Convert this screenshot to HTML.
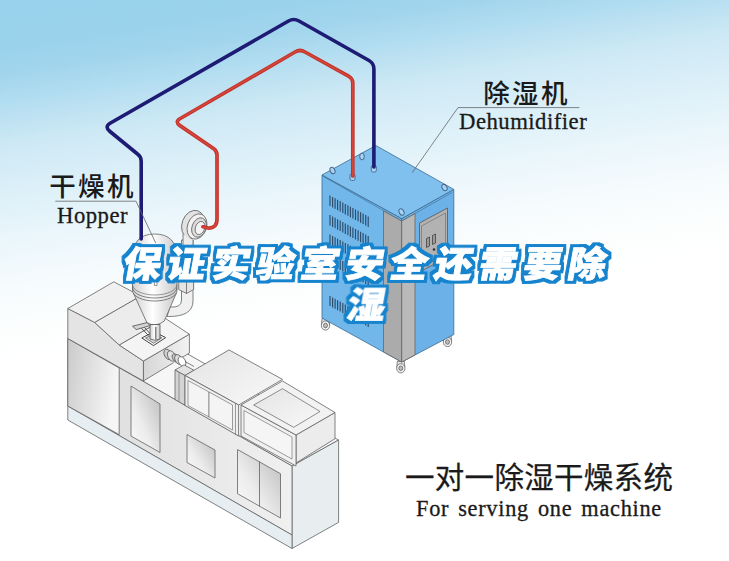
<!DOCTYPE html>
<html lang="zh-CN">
<head>
<meta charset="utf-8">
<title>保证实验室安全还需要除湿</title>
<style>
html,body{margin:0;padding:0;background:#fff;}
#stage{position:relative;width:729px;height:561px;overflow:hidden;background:#fff;}
#stage svg{position:absolute;left:0;top:0;display:block;}
.lab{position:absolute;white-space:nowrap;color:#1a1a1a;line-height:1;}
.cn{font-family:"Liberation Sans","Noto Sans CJK SC",sans-serif;font-weight:500;}
.en{font-family:"Liberation Serif","Noto Serif CJK SC",serif;-webkit-text-stroke:0.3px #1a1a1a;}
</style>
</head>
<body>
<div id="stage">
<svg width="729" height="561" viewBox="0 0 729 561">

<defs>
<linearGradient id="bg" gradientUnits="userSpaceOnUse" x1="0" y1="0" x2="55.5" y2="360.7">
<stop offset="0" stop-color="#98d1eb"/><stop offset="0.12" stop-color="#9ad2eb"/><stop offset="0.2" stop-color="#a1d5ed"/><stop offset="0.27" stop-color="#b0dcf0"/><stop offset="0.33" stop-color="#bee2f2"/><stop offset="0.4" stop-color="#cee9f5"/><stop offset="0.55" stop-color="#dff1f9"/><stop offset="0.65" stop-color="#eaf6fb"/><stop offset="0.78" stop-color="#f6fbfd"/><stop offset="0.9" stop-color="#fcfefe"/><stop offset="1" stop-color="#ffffff"/>
</linearGradient>
<linearGradient id="gFront" x1="0" y1="0" x2="1" y2="0"><stop offset="0" stop-color="#dcdcdc"/><stop offset="1" stop-color="#f0f0f0"/></linearGradient>
<linearGradient id="gPanelL" x1="0" y1="0" x2="1" y2="0.3"><stop offset="0" stop-color="#cacaca"/><stop offset="1" stop-color="#f6f6f6"/></linearGradient>
<linearGradient id="gPan" x1="1" y1="0" x2="0" y2="1"><stop offset="0" stop-color="#b9b9b9"/><stop offset="0.6" stop-color="#ececec"/><stop offset="1" stop-color="#fcfcfc"/></linearGradient>
<linearGradient id="gTop" x1="0" y1="0" x2="1" y2="1"><stop offset="0" stop-color="#e4e4e4"/><stop offset="1" stop-color="#f8f8f8"/></linearGradient>
<linearGradient id="gSide" x1="0" y1="0" x2="1" y2="0"><stop offset="0" stop-color="#d6d6d6"/><stop offset="1" stop-color="#f2f2f2"/></linearGradient>
<linearGradient id="gCyl" x1="0" y1="0" x2="1" y2="0"><stop offset="0" stop-color="#d0d0d0"/><stop offset="0.45" stop-color="#ffffff"/><stop offset="1" stop-color="#c8c8c8"/></linearGradient>
<filter id="ol" filterUnits="userSpaceOnUse" x="100" y="225" width="540" height="115" color-interpolation-filters="sRGB">
<feMorphology in="SourceAlpha" operator="dilate" radius="3" result="d1"/>
<feGaussianBlur in="d1" stdDeviation="0.45" result="d2"/>
<feFlood flood-color="#1583cd"/><feComposite in2="d2" operator="in" result="blue"/>
<feMerge><feMergeNode in="blue"/><feMergeNode in="SourceGraphic"/></feMerge>
</filter>
</defs>

<rect x="0" y="0" width="729" height="561" fill="url(#bg)"/>
<polygon points="67.8,338.5 292.0,466.0 338.6,440.0 114.0,312.0" fill="#f6f6f6" stroke="#626262" stroke-width="0.8" stroke-linejoin="round" />
<polygon points="292.0,466.0 338.6,440.0 338.6,522.4 292.0,548.5" fill="#e8eef0" stroke="#626262" stroke-width="0.8" stroke-linejoin="round" />
<polygon points="67.8,338.5 292.0,466.0 292.0,535.0 67.8,406.0" fill="url(#gFront)" stroke="#626262" stroke-width="0.8" stroke-linejoin="round" />
<polygon points="67.8,406.0 292.0,535.0 292.0,548.5 67.8,420.0" fill="#e6eef1" stroke="#626262" stroke-width="0.8" stroke-linejoin="round" />
<polygon points="67.8,338.5 119.2,368.0 119.2,434.6 67.8,406.0" fill="url(#gPanelL)" stroke="#626262" stroke-width="0.8" stroke-linejoin="round" />
<polygon points="131.0,386.0 160.0,404.0 160.0,452.5 131.0,436.0" fill="url(#gPan)" stroke="#626262" stroke-width="0.8" stroke-linejoin="round" />
<polygon points="187.0,434.5 215.0,450.0 215.0,478.0 187.0,462.5" fill="url(#gPan)" stroke="#626262" stroke-width="0.8" stroke-linejoin="round" />
<polygon points="237.5,449.5 280.5,473.7 280.5,518.0 237.5,493.7" fill="url(#gPan)" stroke="#626262" stroke-width="0.8" stroke-linejoin="round" />
<polyline points="259.5,462.0 259.5,506.0" fill="none" stroke="#626262" stroke-width="0.8" stroke-linejoin="round" stroke-linecap="round" />
<polygon points="143.4,361.0 189.4,334.2 189.4,353.0 143.4,381.0" fill="url(#gSide)" stroke="#626262" stroke-width="0.8" stroke-linejoin="round" />
<polygon points="67.8,308.5 94.6,322.4 119.2,345.0 143.4,361.0 143.4,381.0 67.8,338.5" fill="#e4e4e4" stroke="#626262" stroke-width="0.8" stroke-linejoin="round" />
<polygon points="119.2,345.0 143.4,361.0 189.4,334.2 165.2,318.3" fill="#f4f4f4" stroke="#626262" stroke-width="0.8" stroke-linejoin="round" />
<polygon points="94.6,322.4 119.2,345.0 165.2,318.3 140.6,296.0" fill="#ececec" stroke="#626262" stroke-width="0.8" stroke-linejoin="round" />
<polygon points="67.8,308.5 94.6,322.4 140.6,296.0 113.8,281.8" fill="#f0f0f0" stroke="#626262" stroke-width="0.8" stroke-linejoin="round" />
<g stroke="#4d4d4d" stroke-width="0.7">
<path d="M166.5,349.5 L183,359 L183,366.5 L166.5,359.5 Z" fill="#e8e8e8" stroke="none"/>
<ellipse cx="168" cy="354.5" rx="3.6" ry="5.6" fill="#cfcfcf" transform="rotate(-28 168 354.5)"/>
<ellipse cx="171.5" cy="356" rx="3.6" ry="5.6" fill="#e2e2e2" transform="rotate(-28 171.5 356)"/>
<ellipse cx="175.5" cy="358" rx="2.8" ry="4.4" fill="#c8c8c8" transform="rotate(-28 175.5 358)"/>
<ellipse cx="178.5" cy="359.5" rx="3.4" ry="5.2" fill="#dedede" transform="rotate(-28 178.5 359.5)"/>
<ellipse cx="182" cy="361.5" rx="3.4" ry="5.2" fill="#ffffff" transform="rotate(-28 182 361.5)"/>
<path d="M185,361.5 L194,366.5 M184,365.5 L191,369.5" fill="none"/>
</g>
<polygon points="175.0,370.0 185.0,375.5 194.0,370.3 184.0,364.8" fill="#e2e2e2" stroke="#626262" stroke-width="0.8" stroke-linejoin="round" />
<polygon points="175.0,370.0 185.0,375.5 185.0,405.3 175.0,399.5" fill="#d4d4d4" stroke="#626262" stroke-width="0.8" stroke-linejoin="round" />
<polyline points="179.0,373.0 179.0,401.0" fill="none" stroke="#626262" stroke-width="0.6" stroke-linejoin="round" stroke-linecap="round" />
<polygon points="185.0,375.5 238.6,405.0 282.5,379.4 229.0,349.9" fill="url(#gTop)" stroke="#626262" stroke-width="0.8" stroke-linejoin="round" />
<polygon points="185.0,375.5 238.6,405.0 238.6,436.0 185.0,405.5" fill="#eeeeee" stroke="#626262" stroke-width="0.8" stroke-linejoin="round" />
<polygon points="188.0,380.5 209.0,392.0 209.0,417.0 188.0,405.5" fill="#f4f4f4" stroke="#626262" stroke-width="0.6" stroke-linejoin="round" />
<polygon points="209.0,392.0 232.5,405.0 232.5,430.0 209.0,417.0" fill="#f4f4f4" stroke="#626262" stroke-width="0.6" stroke-linejoin="round" />
<polyline points="235.5,403.5 235.5,434.5" fill="none" stroke="#626262" stroke-width="0.6" stroke-linejoin="round" stroke-linecap="round" />
<polygon points="296.0,435.0 335.0,412.5 335.0,438.7 296.0,463.0" fill="#ececec" stroke="#626262" stroke-width="0.8" stroke-linejoin="round" />
<polygon points="241.0,405.0 296.0,435.0 296.0,466.0 241.0,436.0" fill="#f0f0f0" stroke="#626262" stroke-width="0.8" stroke-linejoin="round" />
<polygon points="244.0,410.5 292.0,437.0 292.0,459.0 244.0,432.5" fill="#f5f5f5" stroke="#626262" stroke-width="0.6" stroke-linejoin="round" />
<polygon points="241.0,405.0 296.0,435.0 335.0,412.5 282.5,381.0" fill="#f2f2f2" stroke="#626262" stroke-width="0.8" stroke-linejoin="round" />
<polygon points="253.7,405.0 293.7,427.3 320.0,411.5 282.5,388.7" fill="url(#gTop)" stroke="#626262" stroke-width="0.7" stroke-linejoin="round" />
<g stroke="#5a5a5a" stroke-width="0.75" stroke-linejoin="round">
<path d="M181.5,240 L193,240 L193,301 Q193,317 167,316.5 L170,307 Q181.5,308 181.5,300 Z" fill="#f0f0f0"/>
<path d="M178.7,272 L193.6,272 L193.6,289.5 L186.5,293.5 L178.7,289.5 Z" fill="#e4e4e4"/>
<path d="M186.5,279 L186.5,293.5" fill="none"/>
<ellipse cx="193" cy="224.5" rx="11" ry="14.5" fill="#e2e2e2" transform="rotate(20 193 224.5)"/>
<ellipse cx="197" cy="226.5" rx="9.5" ry="13" fill="#f2f2f2" transform="rotate(20 197 226.5)"/>
<ellipse cx="199" cy="227.5" rx="7" ry="10" fill="#dcdcdc" transform="rotate(20 199 227.5)"/>
<ellipse cx="200" cy="228" rx="4.6" ry="6.8" fill="#f4f4f4" transform="rotate(20 200 228)"/>
<path d="M183,234 L183,246 L193,246 L193,240" fill="#ececec"/>
<path d="M133.3,293 L176.4,293 L164.3,321 Q155.5,328 146.8,322.5 Z" fill="url(#gCyl)"/>
<path d="M132.5,258 Q132.5,234 154.7,234 Q177,234 177,258 L177,290.5 A22.25,10.5 0 0 1 132.5,290.5 Z" fill="url(#gCyl)"/>
<path d="M132.5,287.5 A22.25,10.5 0 0 0 177,287.5" fill="none"/>
<path d="M132.5,284.5 A22.25,10.5 0 0 0 177,284.5" fill="none" stroke-width="0.6"/>
<path d="M141.8,338 L154,331.6 L165.6,337.6 L153.5,345.6 Z" fill="#f4f4f4" stroke="#444" stroke-width="1"/>
<path d="M145.6,338 L154,333.8 L161.8,337.8 L153.6,343.2 Z" fill="#d8d8d8" stroke="#555" stroke-width="0.7"/>
<path d="M150,324.5 L150,339 Q155,341.5 160,339 L160,324.5 Z" fill="url(#gCyl)" stroke="#4a4a4a"/>
<path d="M155.8,327 L155.8,339.5" fill="none" stroke="#666" stroke-width="1.2"/>
<path d="M132.5,326.2 L147,322.6 L150,325.6 L136.2,329.6 Z" fill="#d4d4d4" stroke="#444"/>
<path d="M141.5,328.3 L148.5,335.5 M144.5,327.5 L149.5,333" fill="none" stroke="#444" stroke-width="0.9"/>
<path d="M154.3,278 L154.3,285.5 L157,285.5 L157,278" fill="#f4f4f4" stroke-width="0.6"/>
</g>
<g stroke="#555" stroke-width="0.7"><path d="M322.0,318.5 L329.0,318.5 L329.5,324.5 L321.5,324.5 Z" fill="#e4e4e4"/><ellipse cx="325.5" cy="325.5" rx="4.2" ry="4.6" fill="#f2f2f2"/><ellipse cx="325.5" cy="325.5" rx="2" ry="2.3" fill="#bdbdbd"/></g>
<g stroke="#555" stroke-width="0.7"><path d="M444.0,335 L451.0,335 L451.5,341 L443.5,341 Z" fill="#e4e4e4"/><ellipse cx="447.5" cy="342" rx="4.2" ry="4.6" fill="#f2f2f2"/><ellipse cx="447.5" cy="342" rx="2" ry="2.3" fill="#bdbdbd"/></g>
<g stroke="#555" stroke-width="0.7"><path d="M397.3,361.3 L404.3,361.3 L404.8,367.3 L396.8,367.3 Z" fill="#e4e4e4"/><ellipse cx="400.8" cy="368.3" rx="4.2" ry="4.6" fill="#f2f2f2"/><ellipse cx="400.8" cy="368.3" rx="2" ry="2.3" fill="#bdbdbd"/></g>
<polygon points="322.0,175.0 401.7,218.6 401.7,362.0 322.0,318.0" fill="#72b7ea" stroke="#3b6a8f" stroke-width="0.8" stroke-linejoin="round" />
<polygon points="401.7,218.6 453.8,189.4 453.8,334.5 401.7,362.0" fill="#6cb2e8" stroke="#3b6a8f" stroke-width="0.8" stroke-linejoin="round" />
<polygon points="375.8,145.5 453.8,189.4 401.7,218.6 322.0,175.0" fill="#80c0ee" stroke="#3b6a8f" stroke-width="0.8" stroke-linejoin="round" />
<polyline points="324.0,176.8 401.7,221.0 452.0,192.6" fill="none" stroke="#3b6a8f" stroke-width="0.6" stroke-linejoin="round" stroke-linecap="round" />
<polygon points="383.5,211.0 401.7,221.0 401.7,362.0 383.5,352.0" fill="#ababab" stroke="#666" stroke-width="0.8" stroke-linejoin="round" />
<polygon points="401.7,221.0 415.0,213.6 415.0,355.0 401.7,362.0" fill="#b9b9b9" stroke="#666" stroke-width="0.8" stroke-linejoin="round" />
<polygon points="419.5,223.0 447.5,208.0 447.5,257.0 419.5,272.0" fill="#b2b2b2" stroke="#555" stroke-width="0.8" stroke-linejoin="round" />
<polygon points="421.5,226.0 445.5,213.0 445.5,254.0 421.5,267.0" fill="none" stroke="#666" stroke-width="0.6" stroke-linejoin="round" />
<polygon points="426.5,238.5 429.5,237.0 429.5,246.0 426.5,247.5" fill="#9a9a9a" stroke="#333" stroke-width="0.7" stroke-linejoin="round" />
<polygon points="432.5,235.5 435.5,234.0 435.5,243.0 432.5,244.5" fill="#9a9a9a" stroke="#333" stroke-width="0.7" stroke-linejoin="round" />
<circle cx="434" cy="249.5" r="1.3" fill="#333"/>
<path d="M330.0,195.5v10.5 M332.6,196.9v10.5 M335.1,198.3v10.5 M337.6,199.7v10.5 M340.2,201.1v10.5 M342.8,202.5v10.5 M345.3,203.9v10.5 M347.9,205.3v10.5 M350.4,206.7v10.5 M352.9,208.1v10.5 M355.5,209.4v10.5 M358.1,210.8v10.5 M360.6,212.2v10.5 M363.1,213.6v10.5 M365.7,215.0v10.5 M368.2,216.4v10.5" stroke="#2c4f6e" stroke-width="1.2" fill="none"/>
<path d="M330.0,215.0v10.5 M332.6,216.4v10.5 M335.1,217.8v10.5 M337.6,219.2v10.5 M340.2,220.6v10.5 M342.8,222.0v10.5 M345.3,223.4v10.5 M347.9,224.8v10.5 M350.4,226.2v10.5 M352.9,227.6v10.5 M355.5,228.9v10.5 M358.1,230.3v10.5 M360.6,231.7v10.5 M363.1,233.1v10.5 M365.7,234.5v10.5 M368.2,235.9v10.5" stroke="#2c4f6e" stroke-width="1.2" fill="none"/>
<path d="M330.0,234.5v10.5 M332.6,235.9v10.5 M335.1,237.3v10.5 M337.6,238.7v10.5 M340.2,240.1v10.5 M342.8,241.5v10.5 M345.3,242.9v10.5 M347.9,244.3v10.5 M350.4,245.7v10.5 M352.9,247.1v10.5 M355.5,248.4v10.5 M358.1,249.8v10.5 M360.6,251.2v10.5 M363.1,252.6v10.5 M365.7,254.0v10.5 M368.2,255.4v10.5" stroke="#2c4f6e" stroke-width="1.2" fill="none"/>
<path d="M330.0,254.0v10.5 M332.6,255.4v10.5 M335.1,256.8v10.5 M337.6,258.2v10.5 M340.2,259.6v10.5 M342.8,261.0v10.5 M345.3,262.4v10.5 M347.9,263.8v10.5 M350.4,265.2v10.5 M352.9,266.6v10.5 M355.5,267.9v10.5 M358.1,269.3v10.5 M360.6,270.7v10.5 M363.1,272.1v10.5 M365.7,273.5v10.5 M368.2,274.9v10.5" stroke="#2c4f6e" stroke-width="1.2" fill="none"/>
<path d="M330.0,296.0v10 M332.6,297.4v10 M335.1,298.8v10 M337.6,300.2v10 M340.2,301.6v10 M342.8,303.0v10 M345.3,304.4v10 M347.9,305.8v10 M350.4,307.2v10 M352.9,308.6v10 M355.5,309.9v10 M358.1,311.3v10 M360.6,312.7v10 M363.1,314.1v10 M365.7,315.5v10 M368.2,316.9v10" stroke="#2c4f6e" stroke-width="1.2" fill="none"/>
<ellipse cx="332.5" cy="170.5" rx="2.3" ry="3.4" fill="#a8d2f1" stroke="#3a5e80" stroke-width="0.9" transform="rotate(-25 332.5 170.5)"/>
<ellipse cx="362" cy="156.5" rx="2.3" ry="3.4" fill="#a8d2f1" stroke="#3a5e80" stroke-width="0.9" transform="rotate(0 362 156.5)"/>
<ellipse cx="401.5" cy="212" rx="2.3" ry="3.4" fill="#a8d2f1" stroke="#3a5e80" stroke-width="0.9" transform="rotate(-25 401.5 212)"/>
<ellipse cx="444.5" cy="187.5" rx="2.3" ry="3.4" fill="#a8d2f1" stroke="#3a5e80" stroke-width="0.9" transform="rotate(-30 444.5 187.5)"/>
<rect x="350" y="174" width="5" height="6.5" rx="1.5" fill="#a8d2f1" stroke="#3a5e80" stroke-width="0.8"/>
<rect x="371.3" y="165.5" width="5" height="6.5" rx="1.5" fill="#a8d2f1" stroke="#3a5e80" stroke-width="0.8"/>
<path d="M141.2,239 L141.2,161 Q141.2,156.5 137.5,154 L110,131.5 Q104,126.8 110.5,123 L288.5,21 Q293.7,18 299,21 L369,60.5 Q373.9,63.3 373.9,69 L373.9,167" fill="none" stroke="#1d1b73" stroke-width="3.6" stroke-linecap="round" stroke-linejoin="round"/>
<path d="M203,226.8 L208,228 Q217,228.5 217,219 L217,155 Q217,151 213.8,148.7 L180,125.6 Q174.5,121.8 180.3,118.5 L295,52 Q300,49 305,52 L348.5,76.2 Q352.8,78.6 352.8,83.5 L352.8,176" fill="none" stroke="#c4332b" stroke-width="3.7" stroke-linecap="round" stroke-linejoin="round"/>
<path d="M203,226.8 L208,228 Q217,228.5 217,219 L217,155 Q217,151 213.8,148.7 L180,125.6 Q174.5,121.8 180.3,118.5 L295,52 Q300,49 305,52 L348.5,76.2 Q352.8,78.6 352.8,83.5 L352.8,176" fill="none" stroke="#d84a3e" stroke-width="1.3" stroke-linecap="round" stroke-linejoin="round"/>
<polyline points="55.7,201.2 136.0,201.2 155.5,242.6" fill="none" stroke="#666" stroke-width="0.8" stroke-linejoin="round" stroke-linecap="round" />
<polyline points="579.0,107.6 458.0,107.6 412.3,172.5" fill="none" stroke="#555" stroke-width="0.7" stroke-linejoin="round" stroke-linecap="round" />
<g font-family="Liberation Sans, Noto Sans CJK SC, sans-serif" font-weight="900" font-size="36" fill="#ffffff" stroke="#ffffff" stroke-width="0.8" stroke-linejoin="miter" filter="url(#ol)">
<text transform="translate(0,276.6) skewX(-10.20) scale(1.06,1)" x="114.34 156.32 198.30 240.28 282.26 324.25 366.23 408.21 450.19 492.17 534.15" y="0">保证实验室安全还需要除</text>
<text transform="translate(0,317.6) skewX(-10.20) scale(1.06,1)" x="325.87" y="0">湿</text>
</g>
</svg>
<div class="lab cn" style="left:49.3px;top:174px;font-size:26.5px;letter-spacing:2.3px;">干燥机</div>
<div class="lab en" style="left:57px;top:205.4px;font-size:22.7px;letter-spacing:0.5px;">Hopper</div>
<div class="lab cn" style="left:483.3px;top:80.5px;font-size:26.5px;letter-spacing:2.3px;">除湿机</div>
<div class="lab en" style="left:459px;top:110.8px;font-size:22.7px;letter-spacing:0.5px;">Dehumidifier</div>
<div class="lab cn" style="left:405px;top:463px;font-size:29.5px;letter-spacing:0.3px;font-weight:400;-webkit-text-stroke:0.25px #1a1a1a;">一对一除湿干燥系统</div>
<div class="lab en" style="left:416px;top:498px;font-size:22.3px;letter-spacing:0.73px;word-spacing:2.7px;">For serving one machine</div>
</div>
</body>
</html>
